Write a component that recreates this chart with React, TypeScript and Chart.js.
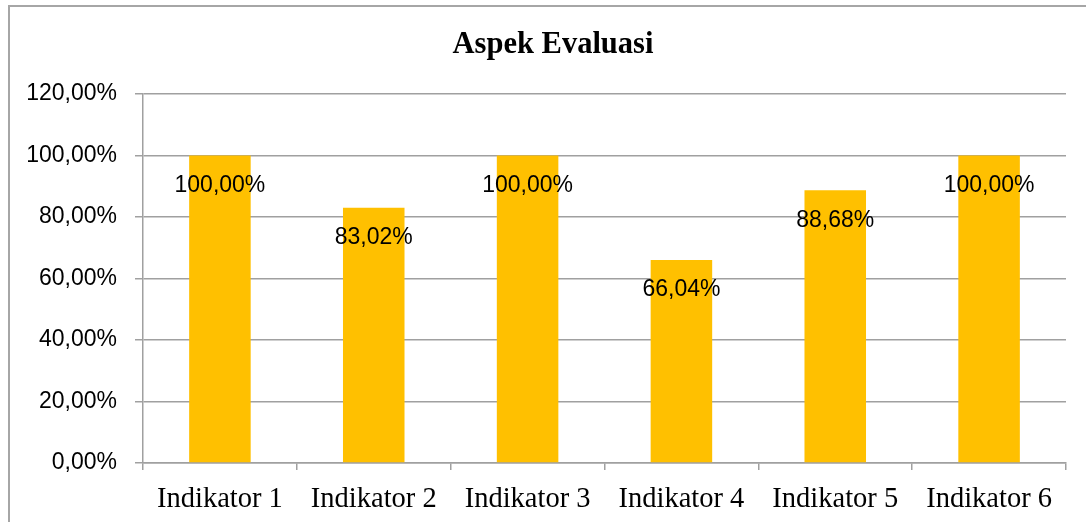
import React, { useEffect, useRef } from "react";
import { Chart, registerables } from "chart.js";

Chart.register(...registerables);

const categories = ["Indikator 1", "Indikator 2", "Indikator 3", "Indikator 4", "Indikator 5", "Indikator 6"];
const values = [100, 83.02, 100, 66.04, 88.68, 100];
const yTicks = [0, 20, 40, 60, 80, 100, 120];
const titleText = "Aspek Evaluasi";

const fmt = (v: number) => v.toFixed(2).replace(".", ",") + "%";

const dataLabelPlugin = {
  id: "dataLabels",
  afterDatasetsDraw(chart: any) {
    const ctx = chart.ctx;
    const meta = chart.getDatasetMeta(0);
    ctx.save();
    ctx.font = "23px 'Liberation Sans', Arial, sans-serif";
    ctx.fillStyle = "#000000";
    ctx.textAlign = "center";
    ctx.textBaseline = "middle";
    meta.data.forEach((bar: any, i: number) => {
      ctx.fillText(fmt(values[i]), bar.x, bar.y + 30);
    });
    ctx.restore();
  },
};

const titlePlugin = {
  id: "centerTitle",
  afterDraw(chart: any) {
    const ctx = chart.ctx;
    ctx.save();
    ctx.font = "bold 30.5px 'Liberation Serif', serif";
    ctx.fillStyle = "#000000";
    ctx.textAlign = "center";
    ctx.textBaseline = "alphabetic";
    ctx.fillText(titleText, chart.width / 2, 46);
    ctx.restore();
  },
};

export default function App() {
  const canvasRef = useRef<HTMLCanvasElement | null>(null);

  useEffect(() => {
    if (!canvasRef.current) return;
    const chart = new Chart(canvasRef.current, {
      type: "bar",
      data: {
        labels: categories,
        datasets: [
          {
            data: values,
            backgroundColor: "#FFC000",
            borderWidth: 0,
            barPercentage: 0.4,
            categoryPercentage: 1,
          },
        ],
      },
      options: {
        animation: false,
        responsive: true,
        maintainAspectRatio: false,
        layout: { padding: { left: 0, right: 30, top: 87, bottom: 20 } },
        plugins: {
          legend: { display: false },
          tooltip: { enabled: false },
          title: { display: false },
        },
        scales: {
          x: {
            grid: {
              offset: true,
              drawOnChartArea: false,
              drawTicks: true,
              tickLength: 7,
              color: "#a0a0a0",
              lineWidth: 1.5,
            },
            border: { display: true, color: "#a0a0a0", width: 1.5 },
            ticks: {
              color: "#000000",
              font: { family: "'Liberation Serif', serif", size: 28.5 },
              padding: 12,
              maxRotation: 0,
              autoSkip: false,
            },
            afterFit(scale: any) {
              scale.height = 50;
            },
          },
          y: {
            min: 0,
            max: 120,
            afterBuildTicks(scale: any) {
              scale.ticks = yTicks.map((v) => ({ value: v }));
            },
            grid: {
              drawTicks: true,
              tickLength: 8,
              color: "#a0a0a0",
              lineWidth: 1.5,
            },
            border: { display: true, color: "#a0a0a0", width: 1.5 },
            ticks: {
              color: "#000000",
              font: { family: "'Liberation Sans', Arial, sans-serif", size: 23 },
              padding: 18,
              callback: (v: any) => fmt(Number(v)),
            },
            afterFit(scale: any) {
              scale.width = 133;
            },
          },
        },
      },
      plugins: [dataLabelPlugin, titlePlugin],
    });
    return () => chart.destroy();
  }, []);

  return (
    <div
      style={{
        position: "fixed",
        left: 0,
        top: 0,
        width: 1086,
        height: 522,
        overflow: "hidden",
        background: "#ffffff",
      }}
    >
      <div
        style={{
          position: "absolute",
          left: 8,
          top: 5,
          width: 1090,
          height: 530,
          border: "2px solid #a6a6a6",
          boxSizing: "border-box",
        }}
      >
        <canvas ref={canvasRef} />
      </div>
    </div>
  );
}
